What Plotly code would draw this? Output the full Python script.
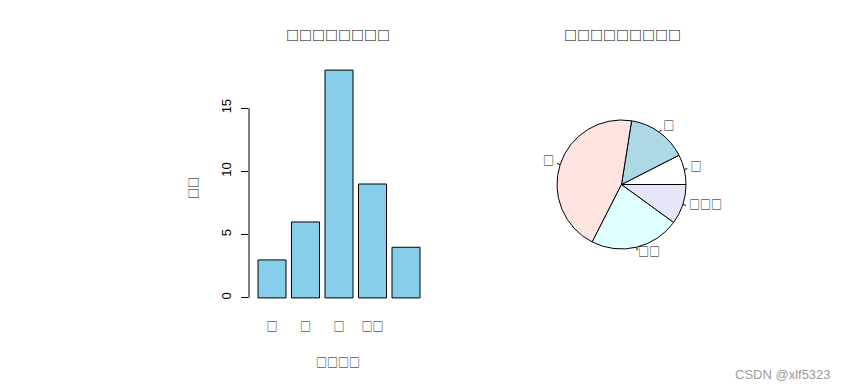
import plotly.graph_objects as go
import numpy as np

# ---- data ----
labels = ["□", "□", "□", "□□", "□□□"]
counts = [3, 6, 18, 9, 4]
bar_title = "□□□□□□□□"
pie_title = "□□□□□□□□□"
x_title = "□□□□"
y_title = "□□"
y_ticks = [0, 5, 10, 15]
pie_colors = ["white", "lightblue", "mistyrose", "lightcyan", "lavender"]
watermark = "CSDN @xlf5323"

OFF = 8  # default page body margin
W, H = 844 - 2 * OFF, 389 - 2 * OFF
def px(x): return (x - OFF) / W
def py(y): return 1 - (y - OFF) / H

CJK = "Noto Sans CJK SC"
NUM = "Liberation Sans, Arial, sans-serif"
TXT = "black"

fig = go.Figure()

# ---- bar chart ----
xi = list(range(len(counts)))
fig.add_trace(go.Bar(
    x=xi, y=counts, width=0.836,
    marker=dict(color="#87CEEB", line=dict(color="black", width=1)),
    xaxis="x", yaxis="y", showlegend=False, hoverinfo="skip"))

# ---- pie chart drawn as barpolar wedges ----
total = sum(counts)
ang = [c / total * 360 for c in counts]
start = np.concatenate([[0], np.cumsum(ang)[:-1]])
mid = [s + a / 2 for s, a in zip(start, ang)]
fig.add_trace(go.Barpolar(
    r=[1] * len(counts), theta=mid, width=ang, base=0,
    marker=dict(color=pie_colors, line=dict(color="black", width=1)),
    subplot="polar", showlegend=False, hoverinfo="skip"))

# leader ticks
tr, tt = [], []
for m in mid:
    tr += [1.0, 1.05, None]
    tt += [m, m, None]
fig.add_trace(go.Scatterpolar(
    r=tr, theta=tt, mode="lines", line=dict(color="black", width=1),
    subplot="polar", showlegend=False, hoverinfo="skip", cliponaxis=False))

# pie labels
pos = ["middle right" if np.cos(np.radians(m)) > 0 else "middle left" for m in mid]
fig.add_trace(go.Scatterpolar(
    r=[1.1] * len(counts), theta=mid, mode="text", text=labels,
    textposition=pos, textfont=dict(family=CJK, size=11, color=TXT),
    subplot="polar", showlegend=False, hoverinfo="skip", cliponaxis=False))

R = 64.5
RM = 1.4
cx, cy = 621.5, 184.5
half = R * RM

fig.update_layout(
    width=W, height=H,
    margin=dict(l=0, r=0, t=0, b=0),
    paper_bgcolor="white", plot_bgcolor="rgba(0,0,0,0)",
    xaxis=dict(domain=[px(249), px(426.5)], range=[-0.687, 4.612],
               tickvals=xi[:4], ticktext=labels[:4],
               tickfont=dict(family=CJK, size=11, color=TXT),
               showline=False, showgrid=False, zeroline=False, ticks="",
               ticklabelstandoff=12, fixedrange=True),
    yaxis=dict(domain=[py(307), py(61)], range=[-0.72, 18.72],
               tickvals=y_ticks, ticks="outside", ticklen=7, tickcolor="black",
               tickfont=dict(family=NUM, size=13, color="black"),
               tickangle=-90, ticklabelstandoff=5,
               showline=False, showgrid=False, zeroline=False, fixedrange=True),
    polar=dict(
        domain=dict(x=[px(cx - half), px(cx + half)], y=[py(cy + half), py(cy - half)]),
        bgcolor="rgba(0,0,0,0)", bargap=0,
        radialaxis=dict(range=[0, RM], visible=False),
        angularaxis=dict(rotation=0, direction="counterclockwise", visible=False,
                         showgrid=False, showline=False, showticklabels=False, ticks="")),
    shapes=[dict(type="line", xref="paper", yref="y", x0=px(249), x1=px(249),
                 y0=y_ticks[0], y1=y_ticks[-1], line=dict(color="black", width=1))],
    annotations=[
        dict(text=f"<b>{bar_title}</b>", x=px(338), y=py(34), xref="paper", yref="paper",
             showarrow=False, font=dict(family=CJK, size=13, color=TXT),
             xanchor="center", yanchor="middle"),
        dict(text=f"<b>{pie_title}</b>", x=px(622), y=py(34), xref="paper", yref="paper",
             showarrow=False, font=dict(family=CJK, size=13, color=TXT),
             xanchor="center", yanchor="middle"),
        dict(text=x_title, x=px(338), y=py(362), xref="paper", yref="paper",
             showarrow=False, font=dict(family=CJK, size=11, color=TXT),
             xanchor="center", yanchor="middle"),
        dict(text=y_title, x=px(193), y=py(188), xref="paper", yref="paper",
             showarrow=False, textangle=-90, font=dict(family=CJK, size=11, color=TXT),
             xanchor="center", yanchor="middle"),
        dict(text=watermark, x=px(783), y=py(374), xref="paper", yref="paper",
             showarrow=False, font=dict(family="Liberation Sans, Arial", size=13, color="#9a9a9a"),
             xanchor="center", yanchor="middle"),
    ],
)

fig.write_html("out.html")
